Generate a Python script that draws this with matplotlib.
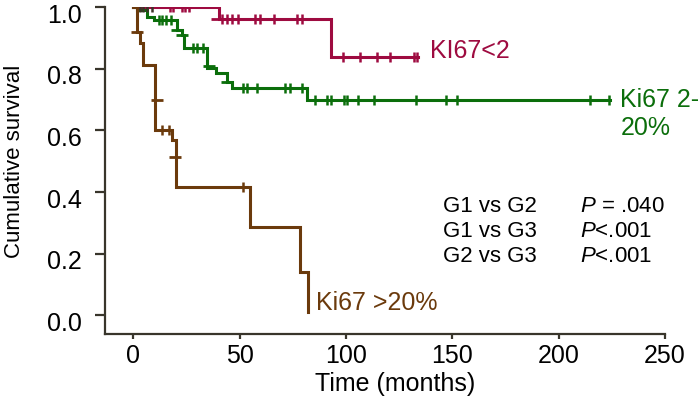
import matplotlib
matplotlib.use("Agg")
import matplotlib.pyplot as plt
from matplotlib.transforms import ScaledTranslation

plt.rcParams['font.family'] = ['Liberation Sans', 'DejaVu Sans']
plt.rcParams['mathtext.fontset'] = 'custom'
plt.rcParams['mathtext.rm'] = 'Liberation Sans'
plt.rcParams['mathtext.it'] = 'Liberation Sans:italic'

# Ki67 <2 (red)
low_event_t = [40.0, 93.0]
low_event_s = [0.961, 0.839]
low_end_t = 134.0
low_cens_t = [17.2, 18.7, 22.7, 24.2, 26.3,
              41.5, 43.9, 46.2, 49.3, 57.2, 59.6, 66.1, 76.8, 79.2,
              98.5, 106.6, 114.5, 120.8, 132.1, 133.3]
low_cens_s = [1.0] * 5 + [0.961] * 9 + [0.839] * 6
low_cross_t = [39.3]
low_cross_s = [0.961]

# Ki67 2-20% (green)
mid_event_t = [1.5, 6.2, 9.5, 20.3, 22.8, 23.8, 34.6, 38.8, 43.9, 46.4, 81.7]
mid_event_s = [0.990, 0.969, 0.958, 0.926, 0.909, 0.866, 0.803, 0.785,
               0.758, 0.737, 0.699]
mid_end_t = 224.3
mid_cens_t = [12.0, 13.5, 15.5, 17.5,
              28.2, 29.8, 32.9,
              51.4, 53.3, 58.0, 71.3, 73.7, 79.2,
              85.5, 91.0, 92.8, 99.2, 100.4, 105.8, 113.2, 132.9, 147.1,
              152.2, 214.9, 223.5]
mid_cens_s = [0.958] * 4 + [0.866] * 3 + [0.737] * 6 + [0.699] * 12
mid_cross_t = [20.3, 22.8, 35.3, 43.9]
mid_cross_s = [0.926, 0.909, 0.808, 0.758]

# Ki67 >20% (brown)
high_event_t = [1.5, 3.1, 4.6, 10.1, 18.0, 19.8, 54.8, 78.1, 81.9]
high_event_s = [0.919, 0.883, 0.812, 0.602, 0.570, 0.418, 0.286, 0.140, 0.01]
high_end_t = 81.9
high_cens_t = [13.3, 16.9, 51.4]
high_cens_s = [0.602, 0.602, 0.418]
high_cross_t = [1.5, 10.9, 19.5]
high_cross_s = [0.919, 0.699, 0.515]

# ticks at 1.0 where the curves overlap
overlap_cens_t = [3.0, 4.6, 6.4, 8.7]
overlap_cens_s = [1.0, 1.0, 1.0, 1.0]

comparisons = ['G1 vs G2', 'G1 vs G3', 'G2 vs G3']
p_texts = [r'$\mathit{P}$ = .040', r'$\mathit{P}$<.001', r'$\mathit{P}$<.001']

red = '#9e0b40'
green = '#0b6e0b'
brown = '#6b3a0c'
axcol = '#38352b'

fig = plt.figure(figsize=(6.99, 4.03), dpi=100)
ax = fig.add_axes([105 / 699, 1 - 334 / 403, 560 / 699, 327 / 403])


def km(ev_t, ev_s, end_t, cens_t, cens_s, cross_t, cross_s, color):
    xs = [0] + ev_t + [end_t]
    ys = [1.0] + ev_s + [ev_s[-1]]
    ax.step(xs, ys, where='post', color=color, lw=2.2, solid_joinstyle='miter')
    ax.plot(cens_t, cens_s, ls='none', marker='|', ms=7, mew=1.8, color=color)
    ax.plot(cross_t, cross_s, ls='none', marker='_', ms=8, mew=2.0, color=color)


km(low_event_t, low_event_s, low_end_t, low_cens_t, low_cens_s,
   low_cross_t, low_cross_s, red)
km(mid_event_t, mid_event_s, mid_end_t, mid_cens_t, mid_cens_s,
   mid_cross_t, mid_cross_s, green)
km(high_event_t, high_event_s, high_end_t, high_cens_t, high_cens_s,
   high_cross_t, high_cross_s, brown)
ax.plot(overlap_cens_t, overlap_cens_s, ls='none', marker='|', ms=7, mew=1.8,
        color='#3d3328')

ax.set_xlim(-13.4, 250)
ax.set_ylim(-0.06, 1.0)
ax.set_xticks([0, 50, 100, 150, 200, 250])
ax.set_yticks([0.0, 0.2, 0.4, 0.6, 0.8, 1.0])
ax.set_yticklabels(['0.0', '0.2', '0.4', '0.6', '0.8', '1.0'])

for s in ['top', 'right']:
    ax.spines[s].set_visible(False)
for s in ['left', 'bottom']:
    ax.spines[s].set_color(axcol)
    ax.spines[s].set_linewidth(1.6)
ax.tick_params(axis='y', direction='out', length=7, width=1.6, color=axcol,
               labelsize=18, pad=10)
ax.tick_params(axis='x', direction='out', length=3.5, width=1.6, color=axcol,
               labelsize=18, pad=4)

# y tick labels sit a little below their ticks in the original
shift = ScaledTranslation(0, -6 / 100, fig.dpi_scale_trans)
for lab in ax.get_yticklabels():
    lab.set_transform(lab.get_transform() + shift)

ax.set_xlabel('Time (months)', fontsize=18)
ax.xaxis.set_label_coords(0.518, -0.153)
ax.xaxis.label.set_va('center')
ax.set_ylabel('Cumulative survival', fontsize=16)
ax.yaxis.set_label_coords(-0.161, 0.527)
ax.yaxis.label.set_va('center')

ax.text(139.6, 0.858, 'KI67<2', color=red, fontsize=18, va='center', ha='left')
ax.text(229, 0.699, 'Ki67 2-', color=green, fontsize=18, va='center',
        ha='left', clip_on=False)
ax.text(229, 0.608, '20%', color=green, fontsize=18, va='center',
        ha='left', clip_on=False)
ax.text(86, 0.039, 'Ki67 >20%', color=brown, fontsize=18, va='center',
        ha='left')

rows_s = [0.353, 0.272, 0.191]
for c, p, y in zip(comparisons, p_texts, rows_s):
    ax.text(145.5, y, c, fontsize=16, va='center', ha='left')
    ax.text(209.8, y, p, fontsize=16, va='center', ha='left')

fig.savefig('out.png', dpi=100)
